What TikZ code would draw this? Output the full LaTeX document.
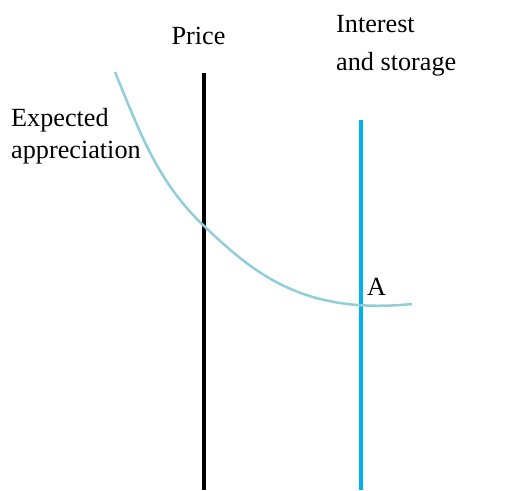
\documentclass[tikz,border=0pt]{standalone}
\usepackage{fontspec}
\setmainfont{Liberation Serif}
\definecolor{vblue}{HTML}{00B0F0}
\definecolor{cblue}{HTML}{92CDDC}
\begin{document}
\begin{tikzpicture}[x=1pt,y=-1pt,
  lbl/.style={inner sep=0pt,font=\fontsize{26.2}{30}\selectfont},
  vline/.style={line width=4pt},
  curve/.style={line width=2.5pt,color=cblue}]
\useasboundingbox (0,0) rectangle (518,490);
% vertical lines
\coordinate (pt) at (204,73);
\coordinate (pb) at (204,490);
\coordinate (it) at (361,120);
\coordinate (ib) at (361,490);
\draw[vline,black] (pt) -- (pb);
\draw[vline,vblue] (it) -- (ib);
% curve
\coordinate (c0) at (115,72);
\coordinate (c1) at (203,225);
\coordinate (c2) at (412,304);
\draw[curve] (c0) .. controls (140.6,134.4) and (158,182) .. (c1)
                  .. controls (253,272.5) and (302,315) .. (c2);
% labels
\node[lbl,anchor=base] (price) at (198.5,44) {Price};
\node[lbl,anchor=base west] (int1) at (336,32) {Interest};
\node[lbl,anchor=base west] (int2) at (336,70) {and storage};
\node[lbl,anchor=base west] (exp1) at (11,126) {Expected};
\node[lbl,anchor=base west] (exp2) at (11,158) {appreciation};
\node[lbl,anchor=base west] (A) at (367,295) {A};
\end{tikzpicture}
\end{document}
